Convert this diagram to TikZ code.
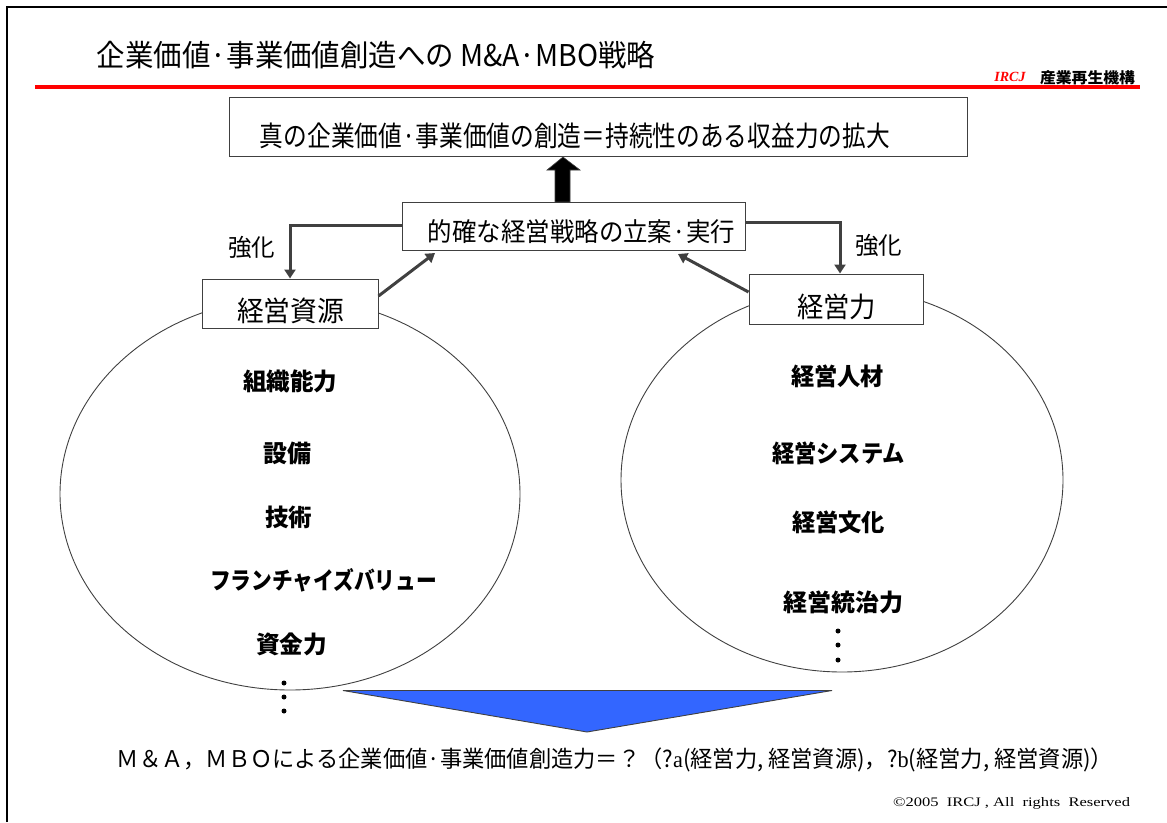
\documentclass[tikz,border=0pt]{standalone}
\usepackage{fontspec}
\usepackage{graphicx}
\setmainfont{Liberation Serif}
\newfontfamily\jp{Noto Sans CJK JP}
\usetikzlibrary{arrows.meta}
\definecolor{dgray}{HTML}{404040}
\definecolor{tblue}{HTML}{3366FF}
\definecolor{ired}{HTML}{FF0000}
\newcommand\hfit[2]{\resizebox{#1}{\height}{#2}}
\newcommand\jpf[1]{\jp\fontsize{#1}{#1}\selectfont}
\tikzset{
  boxed/.style={draw=dgray, line width=1pt, fill=white, inner sep=0pt},
  conn/.style={draw=dgray, line width=3pt, -{Triangle[width=11pt,length=9pt]}},
  txt/.style={inner sep=0pt, anchor=center},
  bul/.style={circle, fill=black, inner sep=0pt, minimum size=5pt},
  oval/.style={draw=dgray, line width=0.9pt}
}
\begin{document}
\begin{tikzpicture}[x=1pt,y=-1pt]
\useasboundingbox (0,0) rectangle (1167,822);
% frame
\draw[line width=2pt] (7,822) -- (7,7) -- (1167,7);
% title
\node[txt] (title) at (376,55) {\hfit{558pt}{\jpf{30pt}企業価値·事業価値創造への M\&A·MBO戦略}};
\draw[ired, line width=4pt] (35,87) -- (1140,87);
\node[txt] (ircj) at (1010,77) {\color{ired}\fontsize{14pt}{14pt}\selectfont\bfseries\itshape IRCJ};
\node[txt] (ircjjp) at (1087.5,78) {\hfit{95pt}{\jpf{15pt}\bfseries 産業再生機構}};
% ellipses
\draw[oval] (290,494) ellipse [x radius=230, y radius=196];
\draw[oval] (842,480) ellipse [x radius=221, y radius=192];
% boxes
\node[boxed, minimum width=738pt, minimum height=59pt] (top) at (598,126.5) {};
\node[txt] (toptxt) at (575,136) {\hfit{630pt}{\jpf{28pt}真の企業価値·事業価値の創造＝持続性のある収益力の拡大}};
\node[boxed, minimum width=343pt, minimum height=48pt] (mid) at (573.5,226) {};
\node[txt] (midtxt) at (581.5,232) {\hfit{307pt}{\jpf{26pt}的確な経営戦略の立案·実行}};
\node[boxed, minimum width=176pt, minimum height=49pt] (res) at (290,303.5) {};
\node[txt] (restxt) at (290.5,311) {\hfit{107pt}{\jpf{28pt}経営資源}};
\node[boxed, minimum width=174pt, minimum height=50pt] (pow) at (836,299) {};
\node[txt] (powtxt) at (836.5,307) {\hfit{79pt}{\jpf{28pt}経営力}};
% big up arrow
\fill[black, draw=dgray, line width=0.6pt] (555,202) -- (555,170) -- (547,170) -- (563,157) -- (580,170) -- (570,170) -- (570,202) -- cycle;
% reinforcement arrows
\draw[conn] ([yshift=1pt]mid.west) -| (res.north);
\draw[conn] ([yshift=4pt]mid.east) -| ([xshift=4pt]pow.north);
\node[txt] (kyoL) at (251.5,247) {\hfit{47pt}{\jpf{24pt}強化}};
\node[txt] (kyoR) at (878.5,245) {\hfit{47pt}{\jpf{24pt}強化}};
% diagonal arrows
\coordinate (dl) at (435,253);
\coordinate (dr) at (678,254);
\draw[conn] ([yshift=7.5pt]res.east) -- (dl);
\draw[conn] ([yshift=7pt]pow.west) -- (dr);
% left contents
\node[txt] (l1) at (290,381) {\hfit{94pt}{\jpf{24pt}\bfseries 組織能力}};
\node[txt] (l2) at (287,453) {\hfit{48pt}{\jpf{24pt}\bfseries 設備}};
\node[txt] (l3) at (288.5,517) {\hfit{47pt}{\jpf{24pt}\bfseries 技術}};
\node[txt] (l4) at (323.5,580) {\hfit{227pt}{\jpf{24pt}\bfseries フランチャイズバリュー}};
\node[txt] (l5) at (291.5,644) {\hfit{71pt}{\jpf{24pt}\bfseries 資金力}};
\node[bul] (ld1) at (284,683) {};
\node[bul] (ld2) at (284,697) {};
\node[bul] (ld3) at (284,711) {};
% right contents
\node[txt] (r1) at (837.5,376) {\hfit{93pt}{\jpf{24pt}\bfseries 経営人材}};
\node[txt] (r2) at (838.5,453) {\hfit{133pt}{\jpf{24pt}\bfseries 経営システム}};
\node[txt] (r3) at (838.5,522) {\hfit{93pt}{\jpf{24pt}\bfseries 経営文化}};
\node[txt] (r4) at (843,602) {\hfit{120pt}{\jpf{24pt}\bfseries 経営統治力}};
\node[bul] (rd1) at (838,631) {};
\node[bul] (rd2) at (838,645) {};
\node[bul] (rd3) at (838,660) {};
% blue triangle
\filldraw[fill=tblue, draw=dgray, line width=0.9pt] (343,690.5) -- (832,690.5) -- (587,732) -- cycle;
% formula
\node[txt] (formula) at (615,760) {\hfit{996pt}{\jpf{23pt}Ｍ＆Ａ，ＭＢＯによる企業価値·事業価値創造力＝？（?{\rmfamily a}(経営力, 経営資源)，?{\rmfamily b}(経営力, 経営資源)）}};
\node[txt] (copy) at (1011.5,803) {\hfit{237pt}{\fontsize{13pt}{13pt}\selectfont ©2005\ \ IRCJ , All\ \ rights\ \ Reserved}};
\end{tikzpicture}
\end{document}
